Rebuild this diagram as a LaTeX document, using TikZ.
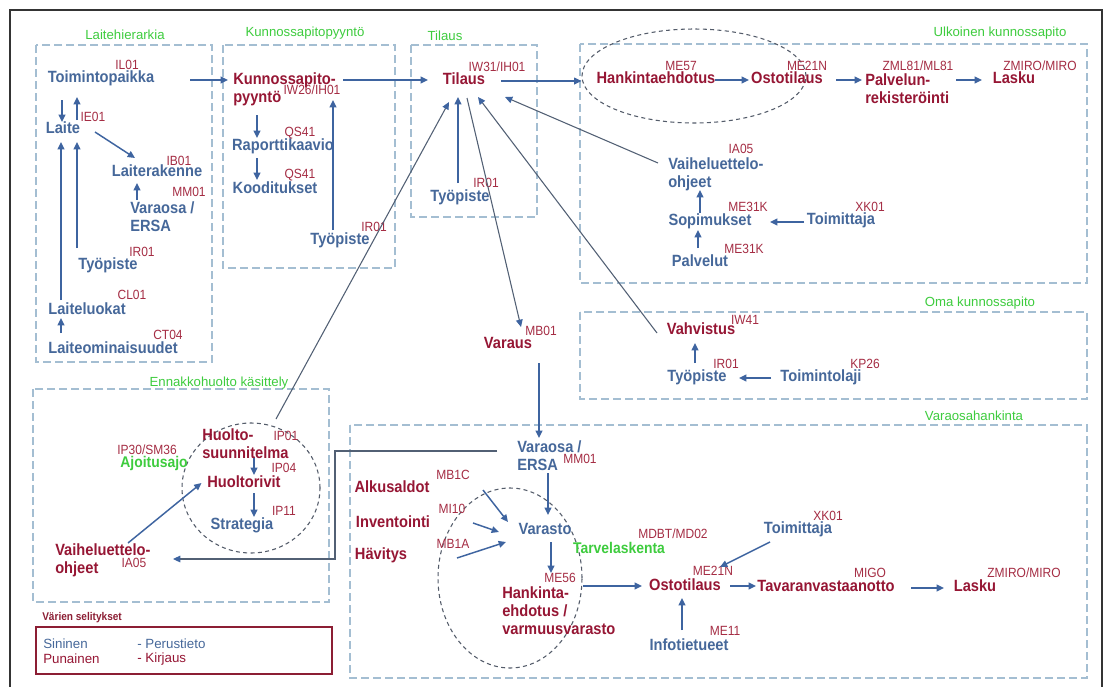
\documentclass[tikz,border=0pt]{standalone}
\usepackage{fontspec}
\setmainfont{Liberation Sans}[FakeStretch=0.9]
\newfontfamily\otsfont{Liberation Sans}
\usetikzlibrary{arrows.meta,calc,shapes.geometric}
\definecolor{perussin}{RGB}{70,104,154}
\definecolor{kirjpun}{RGB}{150,22,52}
\definecolor{koodipun}{RGB}{165,45,68}
\definecolor{vihrea}{RGB}{62,204,62}
\definecolor{ryhmaviiva}{RGB}{164,190,210}
\definecolor{nuolisin}{RGB}{62,100,160}
\definecolor{pitkaharm}{RGB}{82,96,116}
\definecolor{soikioharm}{RGB}{84,92,106}
\definecolor{selpun}{RGB}{140,30,52}
\definecolor{kehys}{RGB}{52,52,52}

\begin{document}
\begin{tikzpicture}[x=0.75pt,y=-0.75pt,
  perus/.style={inner sep=0pt,text=perussin,align=left,font=\fontsize{12.2}{13.5}\selectfont\bfseries},
  kirj/.style={inner sep=0pt,text=kirjpun,align=left,font=\fontsize{12.2}{13.5}\selectfont\bfseries},
  tcode/.style={inner sep=0pt,text=koodipun,font=\fontsize{10}{11}\selectfont},
  otsikko/.style={inner sep=0pt,text=vihrea,font=\otsfont\fontsize{9.9}{12}\selectfont},
  vihrnimi/.style={inner sep=0pt,text=vihrea,font=\fontsize{11.6}{13}\selectfont\bfseries},
  ryhma/.style={draw=ryhmaviiva,line width=.8pt,dash pattern=on 6pt off 3pt},
  soikio/.style={ellipse,draw=soikioharm,line width=.8pt,dash pattern=on 3pt off 2.5pt,inner sep=0pt},
  nuoli/.style={draw=nuolisin,line width=1.1pt,-{Triangle[length=5.5pt,width=5pt]}},
  pitka/.style={draw=pitkaharm,line width=.8pt,-{Triangle[length=5.5pt,width=5pt,color=nuolisin]}},
  selite/.style={inner sep=0pt,anchor=west,font=\otsfont\fontsize{10}{12}\selectfont}]
\useasboundingbox (0,0) rectangle (1111,686);
\fill[white] (0,0) rectangle (1111,686);
\draw[kehys,line width=1.5pt] (10,10) rectangle (1102,694);

\draw[ryhma] (36,45) rectangle (212,362);
\draw[ryhma] (223,45) rectangle (395,268);
\draw[ryhma] (411,45) rectangle (537,217);
\draw[ryhma] (580,44) rectangle (1087,283);
\draw[ryhma] (580,312) rectangle (1087,399);
\draw[ryhma] (350,425) rectangle (1087,678);
\draw[ryhma] (33,389) rectangle (329,602);

\node[otsikko] (o1) at (125,35) {Laitehierarkia};
\node[otsikko] (o2) at (305,33) {Kunnossapitopyyntö};
\node[otsikko] (o3) at (445,36) {Tilaus};
\node[otsikko] (o4) at (1000,33) {Ulkoinen kunnossapito};
\node[otsikko] (o5) at (980,303) {Oma kunnossapito};
\node[otsikko] (o6) at (219,383) {Ennakkohuolto käsittely};
\node[otsikko] (o7) at (974,416) {Varaosahankinta};

\node[soikio,minimum width=168pt,minimum height=70.5pt] (ulkoval) at (694,76) {};
\node[soikio,minimum width=108pt,minimum height=135pt] (vkoval) at (510,578) {};
\node[soikio,minimum width=103.5pt,minimum height=97.5pt] (eoval) at (251,488) {};

\node[perus] (toim) at (101,78) {Toimintopaikka};
\node[perus] (laite) at (63,128) {Laite};
\node[perus] (lrak) at (157,171) {Laiterakenne};
\node[perus,anchor=north west] (lvara) at (130,201) {Varaosa /\\ERSA};
\node[perus] (ltyo) at (108,265) {Työpiste};
\node[perus] (lluok) at (87,309) {Laiteluokat};
\node[perus] (lomin) at (113,348) {Laiteominaisuudet};

\node[kirj,anchor=north west] (kpp) at (233,72) {Kunnossapito-\\pyyntö};
\node[perus] (rap) at (283,146) {Raporttikaavio};
\node[perus] (kood) at (275,188) {Kooditukset};
\node[perus] (ktyo) at (340,240) {Työpiste};

\node[kirj] (tilaus) at (464,79) {Tilaus};
\node[perus] (ttyo) at (460,197) {Työpiste};

\node[kirj] (hank) at (656,78) {Hankintaehdotus};
\node[kirj] (uosto) at (787,78) {Ostotilaus};
\node[kirj,anchor=north west] (palv) at (865,73) {Palvelun-\\rekisteröinti};
\node[kirj] (ulasku) at (1014,78) {Lasku};
\node[perus,anchor=north west] (uvaihe) at (668,157) {Vaiheluettelo-\\ohjeet};
\node[perus] (sopim) at (710,221) {Sopimukset};
\node[perus] (utoim) at (841,220) {Toimittaja};
\node[perus] (palvelut) at (700,261) {Palvelut};

\node[kirj] (vahv) at (701,329) {Vahvistus};
\node[perus] (otyo) at (697,377) {Työpiste};
\node[perus] (otoim) at (821,377) {Toimintolaji};

\node[kirj] (varaus) at (508,343) {Varaus};

\node[perus,anchor=north west] (vvara) at (517,440) {Varaosa /\\ERSA};
\node[perus] (varasto) at (545,529) {Varasto};
\node[kirj,anchor=north west] (hankv) at (502,586) {Hankinta-\\ehdotus /\\varmuusvarasto};
\node[kirj] (alku) at (392,487) {Alkusaldot};
\node[kirj] (inv) at (393,522) {Inventointi};
\node[kirj] (hav) at (381,555) {Hävitys};
\node[vihrnimi] (tarve) at (619,548) {Tarvelaskenta};
\node[kirj] (vosto) at (685,585) {Ostotilaus};
\node[perus] (info) at (689,645) {Infotietueet};
\node[perus] (vtoim) at (798,529) {Toimittaja};
\node[kirj] (tavara) at (826,586) {Tavaranvastaanotto};
\node[kirj] (vlasku) at (975,586) {Lasku};

\node[kirj,anchor=north west] (huolto) at (202,428) {Huolto-\\suunnitelma};
\node[kirj] (hrivit) at (244,482) {Huoltorivit};
\node[perus] (strat) at (242,525) {Strategia};
\node[vihrnimi] (ajo) at (154,463) {Ajoitusajo};
\node[kirj,anchor=north west] (evaihe) at (55,543) {Vaiheluettelo-\\ohjeet};

\node[tcode] (k1) at (127,65) {IL01};
\node[tcode] (k2) at (93,117) {IE01};
\node[tcode] (k3) at (179,161) {IB01};
\node[tcode] (k4) at (189,192) {MM01};
\node[tcode] (k5) at (142,252) {IR01};
\node[tcode] (k6) at (132,295) {CL01};
\node[tcode] (k7) at (168,335) {CT04};
\node[tcode] (k8) at (312,90) {IW26/IH01};
\node[tcode] (k9) at (300,133) {QS41};
\node[tcode] (k10) at (300,175) {QS41};
\node[tcode] (k11) at (374,227) {IR01};
\node[tcode] (k12) at (497,67) {IW31/IH01};
\node[tcode] (k13) at (486,183) {IR01};
\node[tcode] (k14) at (681,66) {ME57};
\node[tcode] (k15) at (807,66) {ME21N};
\node[tcode] (k16) at (918,66) {ZML81/ML81};
\node[tcode] (k17) at (1040,66) {ZMIRO/MIRO};
\node[tcode] (k18) at (741,149) {IA05};
\node[tcode] (k19) at (748,207) {ME31K};
\node[tcode] (k20) at (870,207) {XK01};
\node[tcode] (k21) at (744,249) {ME31K};
\node[tcode] (k22) at (745,320) {IW41};
\node[tcode] (k23) at (726,364) {IR01};
\node[tcode] (k24) at (865,364) {KP26};
\node[tcode] (k25) at (541,331) {MB01};
\node[tcode] (k26) at (580,459) {MM01};
\node[tcode] (k27) at (453,475) {MB1C};
\node[tcode] (k28) at (452,509) {MI10};
\node[tcode] (k29) at (453,544) {MB1A};
\node[tcode] (k30) at (560,578) {ME56};
\node[tcode] (k31) at (673,534) {MDBT/MD02};
\node[tcode] (k32) at (713,571) {ME21N};
\node[tcode] (k33) at (725,631) {ME11};
\node[tcode] (k34) at (828,516) {XK01};
\node[tcode] (k35) at (870,573) {MIGO};
\node[tcode] (k36) at (1024,573) {ZMIRO/MIRO};
\node[tcode] (k37) at (286,436) {IP01};
\node[tcode] (k38) at (284,468) {IP04};
\node[tcode] (k39) at (284,511) {IP11};
\node[tcode] (k40) at (147,450) {IP30/SM36};
\node[tcode] (k41) at (134,563) {IA05};

\draw[nuoli] ($(toim)+(-39,22)$) -- ($(laite)+(-1,-6)$);
\draw[nuoli] ($(laite)+(14,-8)$) -- ($(toim)+(-24,19)$);
\draw[nuoli] ($(laite)+(32,4)$) -- ($(lrak)+(-22,-13)$);
\draw[nuoli] ($(lvara.north west)+(7,-1)$) -- ($(lrak)+(-20,12)$);
\draw[nuoli] ($(ltyo)+(-31,-17)$) -- ($(laite)+(14,14)$);
\draw[nuoli] ($(lluok)+(-26,-9)$) -- ($(laite)+(-2,14)$);
\draw[nuoli] ($(lomin)+(-52,-15)$) -- ($(lluok)+(-26,9)$);
\draw[nuoli] ($(toim)+(89,2)$) -- ($(kpp.north west)+(-5,8)$);

\draw[nuoli] ($(kpp.north west)+(24,43)$) -- ($(rap)+(-26,-8)$);
\draw[nuoli] ($(rap)+(-26,12)$) -- ($(kood)+(-18,-8)$);
\draw[nuoli] ($(ktyo)+(-7,-10)$) -- ($(kpp.north west)+(100,28)$);
\draw[nuoli] ($(kpp.north west)+(110,8)$) -- ($(tilaus)+(-36,1)$);

\draw[nuoli] ($(ttyo)+(-2,-14)$) -- ($(tilaus)+(-6,18)$);
\draw[nuoli] ($(tilaus)+(37,2)$) -- ($(ulkoval.west)+(0,5)$);

\draw[nuoli] ($(hank)+(59,2)$) -- ($(uosto)+(-38,2)$);
\draw[nuoli] ($(uosto)+(49,2)$) -- ($(palv.north west)+(-3,7)$);
\draw[nuoli] ($(palv.north west)+(91,7)$) -- ($(ulasku)+(-32,2)$);
\draw[nuoli] ($(sopim)+(-10,-8)$) -- ($(uvaihe.north west)+(32,33)$);
\draw[nuoli] ($(utoim)+(-37,2)$) -- ($(sopim)+(60,1)$);
\draw[nuoli] ($(palvelut)+(-2,-13)$) -- ($(sopim)+(-12,9)$);
\draw[pitka] ($(uvaihe.north west)+(-10,6)$) -- ($(tilaus)+(41,18)$);

\draw[nuoli] ($(otyo)+(-2,-14)$) -- ($(vahv)+(-6,14)$);
\draw[nuoli] ($(otoim)+(-50,1)$) -- ($(otyo)+(42,1)$);
\draw[pitka] ($(vahv)+(-44,4)$) -- ($(tilaus)+(14,18)$);

\draw[pitka] ($(tilaus)+(3,19)$) -- ($(varaus)+(13,-16)$);
\draw[nuoli] ($(varaus)+(31,20)$) -- ($(vvara.north west)+(22,-2)$);

\draw[nuoli] ($(vvara.north west)+(31,33)$) -- ($(varasto)+(3,-14)$);
\draw[nuoli] ($(varasto)+(6,13)$) -- ($(hankv.north west)+(49,-13)$);
\draw[nuoli] ($(alku)+(91,3)$) -- ($(varasto)+(-37,-7)$);
\draw[nuoli] ($(inv)+(80,1)$) -- ($(varasto)+(-46,3)$);
\draw[nuoli] ($(hav)+(76,3)$) -- ($(varasto)+(-39,13)$);
\draw[nuoli] ($(hankv.north west)+(81,0)$) -- ($(vosto)+(-43,1)$);
\draw[nuoli] ($(info)+(-7,-15)$) -- ($(vosto)+(-3,13)$);
\draw[nuoli] ($(vtoim)+(-28,13)$) -- ($(vosto)+(35,-18)$);
\draw[nuoli] ($(vosto)+(45,1)$) -- ($(tavara)+(-70,0)$);
\draw[nuoli] ($(tavara)+(85,2)$) -- ($(vlasku)+(-31,2)$);
\draw[pitka] ($(vvara.north west)+(-20,11)$) -- ++(-162,0) |- ($(evaihe.north west)+(118,16)$);

\draw[nuoli] ($(huolto.north west)+(52,30)$) -- ($(hrivit)+(10,-7)$);
\draw[nuoli] ($(hrivit)+(10,11)$) -- ($(strat)+(12,-8)$);
\draw[nuoli] ($(evaihe.north west)+(73,0)$) -- ($(eoval.west)+(20,-5)$);
\draw[pitka] ($(huolto.north west)+(74,-9)$) -- ($(tilaus)+(-15,23)$);

\node[inner sep=0pt,anchor=west,text=selpun,font=\fontsize{8.4}{10}\selectfont\bfseries] (selotsikko) at (42,618) {Värien selitykset};
\draw[selpun,line width=1.1pt] (36,627) rectangle (332,674);
\node[selite,text=perussin] (s1) at (43,644) {Sininen};
\node[selite,text=kirjpun] (s2) at (43,659) {Punainen};
\node[selite,text=perussin] (s3) at (137,644) {- Perustieto};
\node[selite,text=kirjpun] (s4) at (137,659) {- Kirjaus};
\end{tikzpicture}
\end{document}
